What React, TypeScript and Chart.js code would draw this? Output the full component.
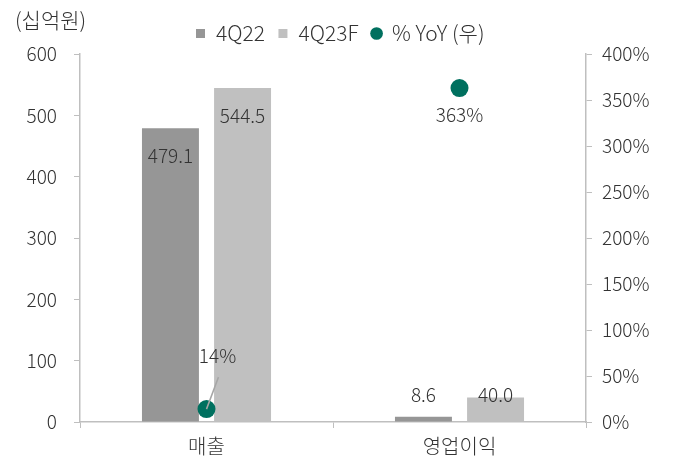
import React, { useEffect, useRef } from "react";
import { Chart, registerables } from "chart.js";

Chart.register(...registerables);

const categories = ["매출", "영업이익"];
const series4Q22 = [479.1, 8.6];
const series4Q23F = [544.5, 40.0];
const yoyPct = [14, 363];
const unitLabel = "(십억원)";

const FONT = "'Noto Sans CJK KR', 'Noto Sans', sans-serif";
const TEXT = "#333333";
const AXIS = "#bfbfbf";

const labelPlugin = {
  id: "valueLabels",
  afterDraw(chart: any) {
    const ctx = chart.ctx;
    const y = chart.scales.y;
    ctx.save();
    ctx.fillStyle = TEXT;
    ctx.font = `300 19px ${FONT}`;
    ctx.textAlign = "center";
    ctx.textBaseline = "middle";
    [0, 1].forEach((di) => {
      const meta = chart.getDatasetMeta(di);
      const vals = chart.data.datasets[di].data as number[];
      meta.data.forEach((bar: any, j: number) => {
        const ly = Math.min(bar.y + 28, y.bottom - 27);
        ctx.fillText(vals[j].toFixed(1), bar.x, ly);
      });
    });
    const pm = chart.getDatasetMeta(2);
    const pv = chart.data.datasets[2].data as number[];
    pm.data.forEach((pt: any, j: number) => {
      const txt = `${pv[j]}%`;
      if (pt.y > y.bottom - 60) {
        ctx.strokeStyle = "#a6a6a6";
        ctx.lineWidth = 1.5;
        ctx.beginPath();
        ctx.moveTo(pt.x + 12, pt.y - 32);
        ctx.lineTo(pt.x, pt.y);
        ctx.stroke();
        ctx.fillText(txt, pt.x + 11, pt.y - 53);
      } else {
        ctx.fillText(txt, pt.x, pt.y + 27);
      }
    });
    ctx.textAlign = "left";
    ctx.font = `300 21px ${FONT}`;
    ctx.fillText(unitLabel, 15, 20);
    ctx.restore();
  },
};

export default function App() {
  const ref = useRef<HTMLCanvasElement>(null);
  useEffect(() => {
    document.body.style.margin = "0";
    const chart = new Chart(ref.current!, {
      type: "bar",
      data: {
        labels: categories,
        datasets: [
          {
            type: "bar",
            label: "4Q22",
            data: series4Q22,
            backgroundColor: "#969696",
            yAxisID: "y",
            order: 1,
            pointStyle: "rect",
            categoryPercentage: 0.57,
            barPercentage: 0.79,
          } as any,
          {
            type: "bar",
            label: "4Q23F",
            data: series4Q23F,
            backgroundColor: "#c0c0c0",
            yAxisID: "y",
            order: 1,
            pointStyle: "rect",
            categoryPercentage: 0.57,
            barPercentage: 0.79,
          } as any,
          {
            type: "line",
            label: "% YoY (우)",
            data: yoyPct,
            yAxisID: "y1",
            showLine: false,
            pointRadius: 9,
            pointHoverRadius: 9,
            pointStyle: "circle",
            backgroundColor: "#00705f",
            borderColor: "#00705f",
            borderWidth: 0,
            order: 0,
          } as any,
        ],
      },
      options: {
        animation: false,
        responsive: false,
        maintainAspectRatio: false,
        layout: { padding: { top: 10, left: 0, right: 0, bottom: 0 } },
        plugins: {
          tooltip: { enabled: false },
          legend: {
            position: "top",
            labels: {
              usePointStyle: true,
              boxWidth: 10,
              boxHeight: 9,
              padding: 13,
              color: TEXT,
              font: { family: FONT, size: 21, weight: "300" as any },
              sort: (a: any, b: any) => a.datasetIndex - b.datasetIndex,
            },
          },
        },
        scales: {
          x: {
            grid: {
              display: true,
              drawOnChartArea: false,
              drawTicks: true,
              tickLength: 6,
              color: AXIS,
              offset: true,
            },
            border: { display: true, color: AXIS, width: 1.5 },
            ticks: {
              color: TEXT,
              padding: 6,
              font: { family: FONT, size: 20, weight: "300" as any },
            },
            afterFit(s: any) {
              s.height = 46;
            },
          },
          y: {
            position: "left",
            min: 0,
            max: 600,
            ticks: {
              stepSize: 100,
              color: TEXT,
              padding: 17,
              font: { family: FONT, size: 19, weight: "300" as any },
            },
            grid: {
              display: true,
              drawOnChartArea: false,
              drawTicks: true,
              tickLength: 6,
              color: AXIS,
            },
            border: { display: true, color: AXIS, width: 1.5 },
            afterFit(s: any) {
              s.width = 80;
            },
          },
          y1: {
            position: "right",
            min: 0,
            max: 400,
            ticks: {
              stepSize: 50,
              color: TEXT,
              padding: 10,
              font: { family: FONT, size: 19, weight: "300" as any },
              callback: (v: any) => `${v}%`,
            },
            grid: {
              display: true,
              drawOnChartArea: false,
              drawTicks: true,
              tickLength: 6,
              color: AXIS,
            },
            border: { display: true, color: AXIS, width: 1.5 },
            afterFit(s: any) {
              s.width = 94;
            },
          },
        },
      },
      plugins: [labelPlugin],
    });
    return () => chart.destroy();
  }, []);
  return (
    <div style={{ position: "absolute", left: 0, top: 0, width: 680, height: 468 }}>
      <canvas ref={ref} width={680} height={468} style={{ width: 680, height: 468 }} />
    </div>
  );
}
